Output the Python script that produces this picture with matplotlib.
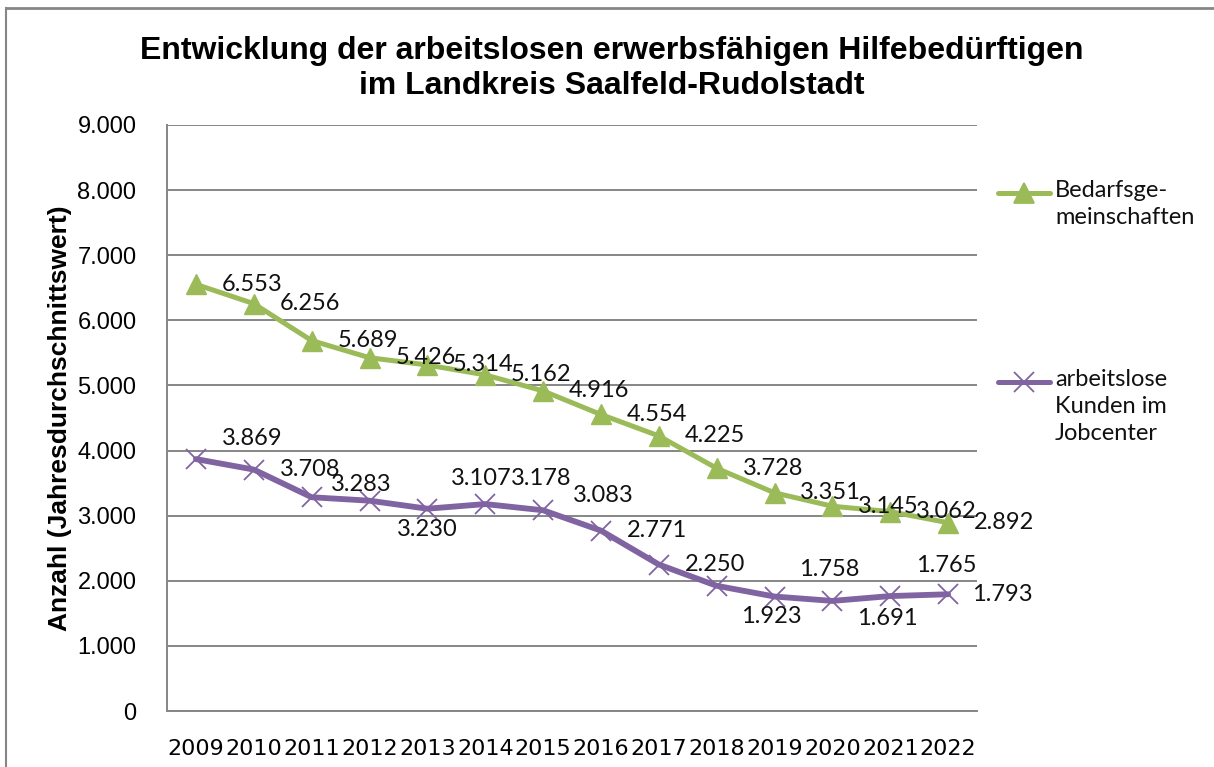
import matplotlib.pyplot as plt
from matplotlib.ticker import FuncFormatter
from matplotlib.lines import Line2D

# Jahresdurchschnittswerte
years = ['2009', '2010', '2011', '2012', '2013', '2014', '2015',
         '2016', '2017', '2018', '2019', '2020', '2021', '2022']
bedarfsgemeinschaften = [6553, 6256, 5689, 5426, 5314, 5162, 4916,
                         4554, 4225, 3728, 3351, 3145, 3062, 2892]
arbeitslose_kunden = [3869, 3708, 3283, 3230, 3107, 3178, 3083,
                      2771, 2250, 1923, 1758, 1691, 1765, 1793]

green = '#9BBB59'
purple = '#8064A2'
grid_c = '#868686'

# label offsets in pixels (x right, y up)
off_green = [(56, 0)] * 14
off_purple = [(56, 21), (56, 0), (50, 13), (58, -29), (54, 30), (56, 26), (60, 15),
              (56, 0), (56, 0), (55, -31), (55, 27), (55, -18), (56, 31), (54, 0)]

def de_fmt(v, pos=None):
    return f'{int(v):,}'.replace(',', '.')

fig = plt.figure(figsize=(12.14, 7.67), dpi=100)
ax = fig.add_axes([167/1214, 1-711/767, (977-167)/1214, (711-125)/767])

x = range(len(years))
ax.plot(x, bedarfsgemeinschaften, color=green, lw=3.6, marker='^', ms=15,
        mec=green, mfc=green, solid_capstyle='round', zorder=3)
ax.plot(x, arbeitslose_kunden, color=purple, lw=4.2, marker='x', ms=15,
        mew=1.3, mec=purple, solid_capstyle='round', zorder=3)

lab_font = dict(family=['Lato', 'DejaVu Sans'], fontsize=17, color='#111111')
for i, v in enumerate(bedarfsgemeinschaften):
    ax.annotate(de_fmt(v), (i, v), xytext=off_green[i], textcoords='offset pixels',
                ha='center', va='center', zorder=4, **lab_font)
for i, v in enumerate(arbeitslose_kunden):
    ax.annotate(de_fmt(v), (i, v), xytext=off_purple[i], textcoords='offset pixels',
                ha='center', va='center', zorder=4, **lab_font)

ax.set_xlim(-0.5, len(years) - 0.5)
ax.set_ylim(0, 9000)
ax.set_yticks(range(0, 9001, 1000))
ax.yaxis.set_major_formatter(FuncFormatter(de_fmt))
ax.set_xticks(list(x))
ax.set_xticklabels(years, family=['Liberation Sans Narrow', 'DejaVu Sans'], fontsize=16)
for t in ax.get_yticklabels():
    t.set_family('Liberation Sans')
    t.set_fontsize(17)
ax.tick_params(length=0)
ax.tick_params(axis='y', pad=22)
ax.tick_params(axis='x', pad=20)
ax.grid(axis='y', color=grid_c, lw=1.4)
ax.set_axisbelow(True)
for s in ['top', 'right']:
    ax.spines[s].set_visible(False)
for s in ['left', 'bottom']:
    ax.spines[s].set_color(grid_c)
    ax.spines[s].set_linewidth(1.4)

ax.set_ylabel('Anzahl (Jahresdurchschnittswert)', family='Liberation Sans',
              fontweight='bold', fontsize=19)
ax.yaxis.set_label_coords(-95/810, 0.5)

fig.text(0.504, 1-36/767, 'Entwicklung der arbeitslosen erwerbsfähigen Hilfebedürftigen\n'
         'im Landkreis Saalfeld-Rudolstadt', ha='center', va='top',
         family='Liberation Sans', fontweight='bold', fontsize=23, linespacing=1.2)

# legend drawn by hand to the right of the plot
leg_font = dict(family=['Lato', 'DejaVu Sans'], fontsize=17, color='#111111')
for ypix, col, mk, txt in [(193, green, '^', 'Bedarfsge-\nmeinschaften'),
                           (382, purple, 'x', 'arbeitslose\nKunden im\nJobcenter')]:
    yf = 1 - ypix/767
    fig.add_artist(Line2D([998/1214, 1050/1214], [yf, yf], color=col, lw=3.6,
                          solid_capstyle='round', transform=fig.transFigure))
    fig.add_artist(Line2D([1024/1214], [yf], color=col, marker=mk, ms=15, mew=1.3,
                          transform=fig.transFigure))
    fig.text(1055/1214, yf + 13/767, txt, ha='left', va='top', linespacing=1.35, **leg_font)

# outer frame (top and left edges visible)
fig.add_artist(Line2D([6/1214, 1], [1-8/767, 1-8/767], color=grid_c, lw=2,
                      transform=fig.transFigure))
fig.add_artist(Line2D([6/1214, 6/1214], [0, 1-8/767], color=grid_c, lw=1.5,
                      transform=fig.transFigure))

fig.savefig('out.png', dpi=100)
